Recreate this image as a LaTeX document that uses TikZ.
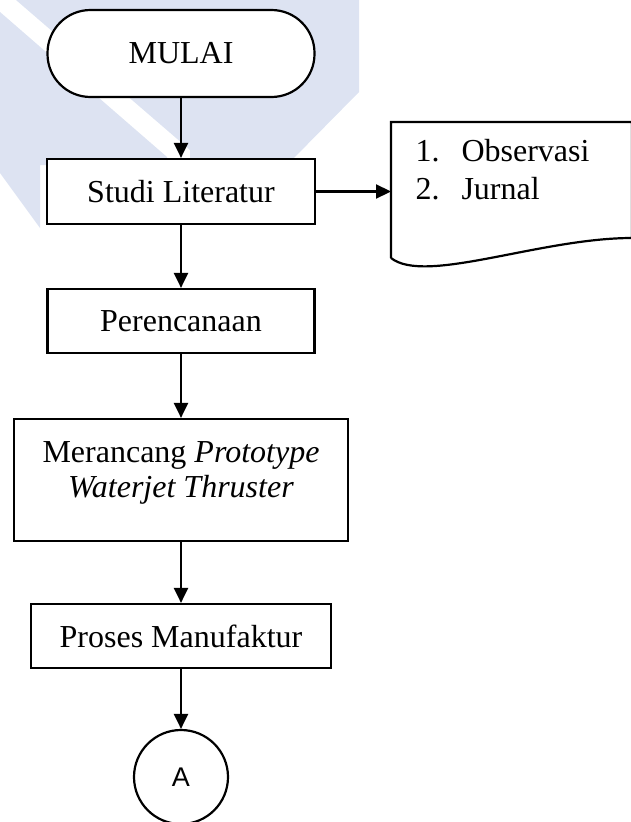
\documentclass[tikz,border=0pt]{standalone}
\usepackage{fontspec}
\setmainfont{Liberation Serif}
\newfontfamily\sansA{Liberation Sans}
\usepackage{tikz}
\usetikzlibrary{calc}
\usetikzlibrary{arrows.meta}
\definecolor{watermark}{RGB}{221,227,242}
\tikzset{
    box/.style={draw, line width=2.2pt, fill=white, minimum height=65pt, inner sep=0pt, font=\fontsize{32}{38}\selectfont},
    terminal/.style={box, rounded corners=43pt, minimum height=87pt},
    connector/.style={draw, circle, line width=2.2pt, fill=white, minimum size=94pt, inner sep=0pt, font=\sansA\fontsize{27}{30}\selectfont},
    txt/.style={font=\fontsize{32}{35}\selectfont, align=center},
    arr/.style={line width=2.2pt, -{Triangle[length=15pt,width=14pt]}}
}
\begin{document}
\begin{tikzpicture}[x=1pt,y=-1pt]
\useasboundingbox (0,0) rectangle (630,822);
\fill[watermark] (0,12) -- (167,157) -- (167,165) -- (40,165) -- (40,228) -- (0,173) -- cycle;
\fill[watermark] (16,0) -- (359,0) -- (359,92) -- (290,162) -- (190,162) -- (190,150) -- cycle;
\node[terminal, minimum width=267pt] (mulai) at (181,53.5) {MULAI};
\node[box, minimum width=268pt] (studi) at (181,191.5) {Studi Literatur};
\node[box, minimum width=267pt, minimum height=64pt] (rencana) at (181,321) {Perencanaan};
\node[box, minimum width=334pt, minimum height=122pt] (rancang) at (181,480) {};
\node[txt] (rancangtxt) at ([yshift=7pt]rancang.center) {Merancang \textit{Prototype}\\\textit{Waterjet Thruster}};
\node[box, minimum width=300pt, minimum height=64pt] (proses) at (181,636) {Proses Manufaktur};
\node[connector] (a) at (181,777) {A};
\coordinate (docnw) at (391,122);
\coordinate (docne) at (632,122);
\coordinate (docsw) at (391,258);
\coordinate (docse) at (632,238);
\draw[line width=2.2pt] (docsw) -- (docnw) -- (docne) -- (docse) .. controls (540,238) and (425,285) .. (docsw);
\node[anchor=west, font=\fontsize{32}{38}\selectfont] (daftar) at (412,173) {\begin{tabular}{@{}p{46pt}@{}l@{}}1. & Observasi\\ 2. & Jurnal\end{tabular}};
\draw[arr] (mulai) -- (studi);
\draw[arr] (studi) -- (studi -| docnw);
\draw[arr] (studi) -- (rencana);
\draw[arr] (rencana) -- (rancang);
\draw[arr] (rancang) -- (proses);
\draw[arr] (proses) -- (a);
\end{tikzpicture}
\end{document}
